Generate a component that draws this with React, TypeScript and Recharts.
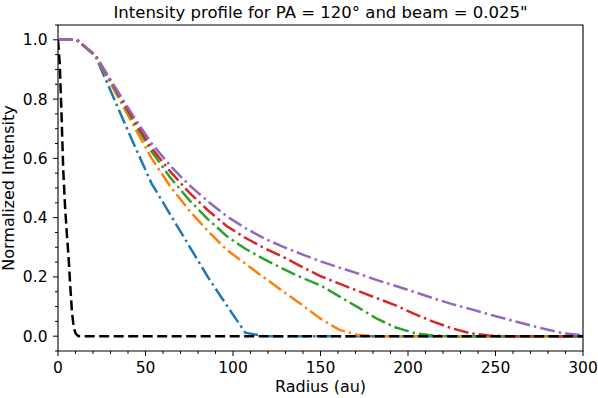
import { LineChart, Line, XAxis, YAxis, ReferenceArea } from 'recharts'

// radius grid of the model profiles (au)
const radius = [
  0, 10.7, 21.4, 32.1, 42.8, 53.5, 64.2, 74.9, 85.6, 96.3, 107, 117.7, 128.4, 139.1, 149.8,
  160.5, 171.2, 181.9, 192.6, 203.3, 214, 224.7, 235.4, 246.1, 256.8, 267.5, 278.2, 288.9, 299.6
]

const blue = [
  1, 1, 0.945, 0.8, 0.655, 0.515, 0.41, 0.305, 0.2, 0.105, 0.012, 0, 0, 0, 0,
  0, 0, 0, 0, 0, 0, 0, 0, 0, 0, 0, 0, 0, 0
]
const orange = [
  1, 1, 0.946, 0.83, 0.715, 0.6, 0.505, 0.425, 0.355, 0.292, 0.245, 0.198, 0.152, 0.107, 0.06,
  0.022, 0.004, 0, 0, 0, 0, 0, 0, 0, 0, 0, 0, 0, 0
]
const green = [
  1, 1, 0.947, 0.838, 0.728, 0.623, 0.535, 0.46, 0.395, 0.338, 0.295, 0.26, 0.228, 0.198, 0.172,
  0.135, 0.098, 0.06, 0.03, 0.011, 0.002, 0, 0, 0, 0, 0, 0, 0, 0
]
const red = [
  1, 1, 0.948, 0.842, 0.735, 0.635, 0.555, 0.485, 0.425, 0.372, 0.332, 0.298, 0.268, 0.235, 0.203,
  0.178, 0.153, 0.129, 0.105, 0.076, 0.05, 0.027, 0.01, 0.002, 0, 0, 0, 0, 0
]
const purple = [
  1, 1, 0.948, 0.845, 0.745, 0.65, 0.575, 0.51, 0.455, 0.405, 0.365, 0.33, 0.302, 0.277, 0.253,
  0.232, 0.212, 0.19, 0.17, 0.15, 0.129, 0.109, 0.092, 0.074, 0.057, 0.04, 0.024, 0.01, 0.003
]

// beam profile (black dashed)
const beamRadius = [0, 1, 2, 3, 4, 5, 6, 7, 8, 9, 10, 11, 12, 300]
const beam = [1, 0.92, 0.75, 0.56, 0.44, 0.35, 0.27, 0.17, 0.08, 0.03, 0.01, 0.003, 0, 0]

const xTicks = [
  0, 10, 20, 30, 40, 50, 60, 70, 80, 90, 100, 110, 120, 130, 140, 150, 160, 170, 180, 190,
  200, 210, 220, 230, 240, 250, 260, 270, 280, 290, 300
]
const yTicks = [
  -0.05, 0, 0.05, 0.1, 0.15, 0.2, 0.25, 0.3, 0.35, 0.4, 0.45, 0.5, 0.55, 0.6, 0.65, 0.7, 0.75,
  0.8, 0.85, 0.9, 0.95, 1, 1.05
]

const series = [
  { name: 'blue', values: blue, color: '#1f77b4' },
  { name: 'orange', values: orange, color: '#ff7f0e' },
  { name: 'green', values: green, color: '#2ca02c' },
  { name: 'red', values: red, color: '#d62728' },
  { name: 'purple', values: purple, color: '#9467bd' }
]

const font = '"DejaVu Sans", sans-serif'

// eslint-disable-next-line @typescript-eslint/no-explicit-any
function XTick({ x, y, payload }: any) {
  const v = payload.value
  const major = v % 50 === 0
  return (
    <g>
      <line x1={x} x2={x} y1={y} y2={y + (major ? 5 : 3)} stroke="#000" strokeWidth={1} />
      {major && (
        <text x={x} y={y + 21.5} textAnchor="middle" fontSize={15.5} fill="#000" fontFamily={font}>
          {v}
        </text>
      )}
    </g>
  )
}

// eslint-disable-next-line @typescript-eslint/no-explicit-any
function YTick({ x, y, payload }: any) {
  const v = payload.value
  const k = Math.round(v * 100)
  const major = k % 20 === 0 && k >= 0 && k <= 100
  return (
    <g>
      <line x1={x - (major ? 5 : 3)} x2={x} y1={y} y2={y} stroke="#000" strokeWidth={1} />
      {major && (
        <text x={x - 10.5} y={y} dy="0.36em" textAnchor="end" fontSize={15.5} fill="#000" fontFamily={font}>
          {(k / 100).toFixed(1)}
        </text>
      )}
    </g>
  )
}

export default function App() {
  return (
    <div style={{ position: 'absolute', left: 0, top: 0, background: '#fff' }}>
      <LineChart
        width={598}
        height={398}
        margin={{ top: 25, right: 15, left: 0, bottom: 0 }}
        style={{ fontFamily: font }}
      >
        <XAxis
          dataKey="r"
          type="number"
          domain={[0, 300]}
          ticks={xTicks}
          interval={0}
          allowDataOverflow
          height={47}
          tickSize={0}
          tickMargin={0}
          axisLine={false}
          tick={<XTick />}
        />
        <YAxis
          type="number"
          domain={[-0.05, 1.05]}
          ticks={yTicks}
          interval={0}
          allowDataOverflow
          width={58}
          tickSize={0}
          tickMargin={0}
          axisLine={false}
          tick={<YTick />}
        />
        <ReferenceArea x1={0} x2={300} y1={-0.05} y2={1.05} fill="none" stroke="#000" strokeWidth={1.1} />
        {series.map(s => (
          <Line
            key={s.name}
            data={radius.map((r, i) => ({ r, v: s.values[i] }))}
            dataKey="v"
            type="linear"
            stroke={s.color}
            strokeWidth={2.5}
            strokeDasharray="15 4 2.5 4"
            dot={false}
            activeDot={false}
            isAnimationActive={false}
          />
        ))}
        <Line
          data={beamRadius.map((r, i) => ({ r, v: beam[i] }))}
          dataKey="v"
          type="linear"
          stroke="#000"
          strokeWidth={2.5}
          strokeDasharray="10 4.5"
          dot={false}
          activeDot={false}
          isAnimationActive={false}
        />
        <text x={320.5} y={18} textAnchor="middle" fontSize={16.5} fill="#000" fontFamily={font}>
          Intensity profile for PA = 120° and beam = 0.025"
        </text>
        <text x={320.5} y={392} textAnchor="middle" fontSize={16} fill="#000" fontFamily={font}>
          Radius (au)
        </text>
        <text
          x={14}
          y={188}
          textAnchor="middle"
          fontSize={16}
          fill="#000"
          fontFamily={font}
          transform="rotate(-90 14 188)"
        >
          Normalized Intensity
        </text>
      </LineChart>
    </div>
  )
}
